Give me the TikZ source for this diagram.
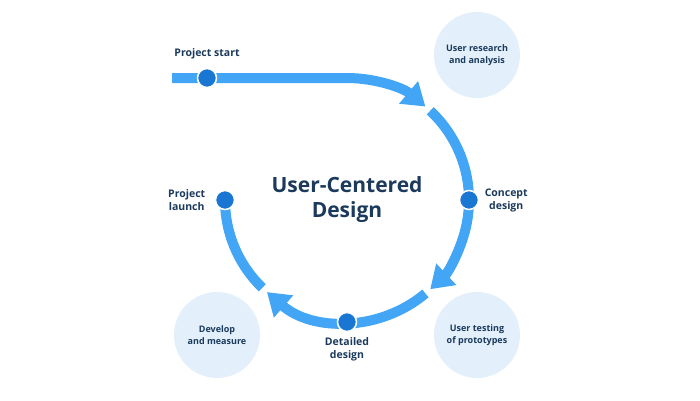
\documentclass[tikz,border=0pt]{standalone}
\usepackage{fontspec}
\setmainfont{Open Sans}
\usetikzlibrary{arrows.meta,positioning}
\definecolor{flowblue}{HTML}{42A5F5}
\definecolor{dotblue}{HTML}{1976D2}
\definecolor{textnavy}{HTML}{1B3A5C}
\definecolor{bubble}{HTML}{E3F0FB}
\begin{document}
\begin{tikzpicture}[
  x=1pt, y=1pt,
  flow/.style={draw=flowblue, line width=10pt},
  tip/.style={-{Triangle[length=22pt,width=28pt]}},
  stage/.style={circle, fill=dotblue, draw=white, line width=1.5pt, minimum size=19pt, inner sep=0pt},
  bubblenode/.style={circle, fill=bubble, minimum size=86pt, align=center, font=\bfseries\fontsize{9}{12}\selectfont, text=textnavy},
  label/.style={align=center, font=\bfseries\fontsize{10.5}{13}\selectfont, text=textnavy},
]
\useasboundingbox[fill=white] (0,0) rectangle (700,400);

% Background bubbles
\node[bubblenode] (research) at (477,345) {User research\\and analysis};
\node[bubblenode] (testing) at (477,65) {User testing\\of prototypes};
\node[bubblenode] (develop) at (217,65) {Develop\\and measure};

% Centre
\coordinate (hub) at (347,200);
\node[font=\bfseries\fontsize{21}{25}\selectfont, text=textnavy, align=center] (title) at (hub) {User-Centered\\Design};

% Flow
\draw[flow, tip] (172,322) -- (347,322) arc[start angle=90, end angle=50, radius=122];
\draw[flow, tip] ([shift={(47:122)}]hub) arc[start angle=47, end angle=-47, radius=122];
\draw[flow, tip] ([shift={(-50:122)}]hub) arc[start angle=-50, end angle=-131, radius=122];
\draw[flow] ([shift={(-134:122)}]hub) arc[start angle=-134, end angle=-180, radius=122];

% Stages
\node[stage] (start) at (207,322) {};
\node[stage] (concept) at ([shift={(0:122)}]hub) {};
\node[stage] (detailed) at ([shift={(-90:122)}]hub) {};
\node[stage] (launch) at ([shift={(180:122)}]hub) {};

\node[label, above=5pt of start] {Project start};
\node[label, right=2pt of concept] {Concept\\design};
\node[label, below=2pt of detailed] {Detailed\\design};
\node[label, left=6pt of launch] {Project\\launch};
\end{tikzpicture}
\end{document}
